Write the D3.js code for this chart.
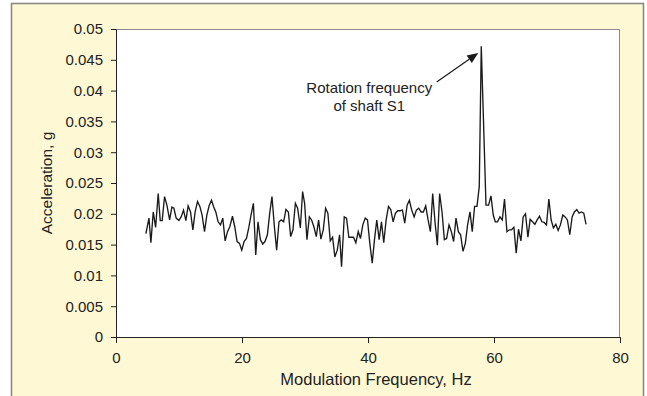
<!DOCTYPE html>
<html lang="en">
<head>
    <meta charset="UTF-8">
    <title>Modulation spectrum</title>
    <script src="https://cdnjs.cloudflare.com/ajax/libs/d3/7.8.5/d3.min.js"></script>
    <style>
        html, body {
            margin: 0;
            padding: 0;
            background: #fff;
        }
        svg {
            display: block;
            font-family: "Liberation Sans", Arial, Helvetica, sans-serif;
        }
        .axis text {
            font-size: 15px;
            fill: #222;
        }
        .axis path, .axis line {
            stroke: #222;
        }
    </style>
</head>
<body>
<svg width="647" height="396"></svg>

<script>

    // frequency (Hz) of each spectrum line
    const freq = [
        4.75, 5.23, 5.54, 5.91, 6.29, 6.70, 7.02, 7.33, 7.71, 8.08,
        8.51, 8.87, 9.19, 9.55, 9.98, 10.34, 10.72, 11.09, 11.45, 11.83,
        12.20, 12.56, 12.94, 13.31, 13.67, 14.05, 14.42, 14.78, 15.16, 15.48,
        15.84, 16.21, 16.59, 16.95, 17.32, 17.70, 18.06, 18.49, 18.85, 19.22,
        19.60, 19.96, 20.33, 20.71, 21.07, 21.43, 21.81, 22.18, 22.54, 22.92,
        23.29, 23.65, 24.03, 24.40, 24.76, 25.14, 25.50, 25.87, 26.25, 26.61,
        26.98, 27.36, 27.72, 28.09, 28.47, 28.83, 29.26, 29.62, 29.94, 30.31,
        30.69, 31.05, 31.41, 31.79, 32.16, 32.52, 32.90, 33.27, 33.63, 34.01,
        34.38, 34.74, 35.12, 35.49, 35.80, 36.23, 36.59, 36.96, 37.34, 37.70,
        38.07, 38.45, 38.81, 39.18, 39.56, 39.92, 40.29, 40.67, 41.03, 41.39,
        41.77, 42.14, 42.50, 42.88, 43.25, 43.61, 43.99, 44.36, 44.72, 45.10,
        45.47, 45.83, 46.21, 46.57, 46.94, 47.32, 47.68, 48.05, 48.43, 48.79,
        49.16, 49.54, 49.90, 50.27, 50.65, 51.01, 51.37, 51.75, 52.12, 52.48,
        52.86, 53.23, 53.59, 53.97, 54.34, 54.70, 55.08, 55.45, 55.81, 56.19,
        56.55, 56.92, 57.30, 57.66, 57.98, 58.73, 59.14, 59.52, 59.88, 60.20,
        60.56, 60.94, 61.31, 61.67, 62.05, 62.42, 62.78, 63.16, 63.52, 63.89,
        64.27, 64.63, 65.00, 65.38, 65.74, 66.11, 66.49, 66.85, 67.22, 67.60,
        67.96, 68.33, 68.71, 69.07, 69.43, 69.81, 70.18, 70.54, 70.92, 71.29,
        71.65, 72.03, 72.40, 72.76, 73.14, 73.50, 73.87, 74.25, 74.61
    ];

    // acceleration (g) at each frequency
    const accel = [
        0.0168, 0.0193, 0.0153, 0.0203, 0.0178, 0.0233, 0.0189, 0.0189, 0.0228, 0.0214,
        0.0190, 0.0211, 0.0209, 0.0193, 0.0189, 0.0195, 0.0206, 0.0189, 0.0213, 0.0203,
        0.0174, 0.0203, 0.0220, 0.0212, 0.0198, 0.0171, 0.0198, 0.0213, 0.0222, 0.0212,
        0.0203, 0.0187, 0.0182, 0.0193, 0.0156, 0.0171, 0.0179, 0.0196, 0.0179, 0.0155,
        0.0152, 0.0141, 0.0155, 0.0160, 0.0177, 0.0198, 0.0217, 0.0133, 0.0187, 0.0158,
        0.0151, 0.0155, 0.0166, 0.0201, 0.0228, 0.0179, 0.0141, 0.0187, 0.0190, 0.0187,
        0.0207, 0.0203, 0.0163, 0.0174, 0.0217, 0.0209, 0.0177, 0.0236, 0.0217, 0.0158,
        0.0195, 0.0190, 0.0179, 0.0163, 0.0190, 0.0159, 0.0174, 0.0209, 0.0201, 0.0156,
        0.0162, 0.0130, 0.0141, 0.0166, 0.0114, 0.0195, 0.0193, 0.0162, 0.0162, 0.0162,
        0.0153, 0.0171, 0.0160, 0.0182, 0.0193, 0.0190, 0.0152, 0.0120, 0.0158, 0.0190,
        0.0158, 0.0187, 0.0153, 0.0190, 0.0212, 0.0207, 0.0187, 0.0201, 0.0205, 0.0205,
        0.0206, 0.0185, 0.0214, 0.0222, 0.0206, 0.0195, 0.0206, 0.0209, 0.0203, 0.0203,
        0.0213, 0.0190, 0.0171, 0.0233, 0.0185, 0.0149, 0.0233, 0.0203, 0.0158, 0.0160,
        0.0182, 0.0171, 0.0155, 0.0193, 0.0171, 0.0166, 0.0139, 0.0152, 0.0182, 0.0203,
        0.0171, 0.0212, 0.0212, 0.0244, 0.0472, 0.0214, 0.0214, 0.0229, 0.0198, 0.0187,
        0.0187, 0.0195, 0.0190, 0.0224, 0.0171, 0.0174, 0.0174, 0.0178, 0.0136, 0.0175,
        0.0156, 0.0195, 0.0200, 0.0162, 0.0191, 0.0187, 0.0183, 0.0190, 0.0196, 0.0187,
        0.0186, 0.0182, 0.0224, 0.0190, 0.0177, 0.0183, 0.0173, 0.0182, 0.0198, 0.0195,
        0.0190, 0.0166, 0.0195, 0.0203, 0.0207, 0.0201, 0.0203, 0.0201, 0.0183
    ];

    const xTicks = [0, 20, 40, 60, 80];
    const yTicks = [0, 0.005, 0.01, 0.015, 0.02, 0.025, 0.03, 0.035, 0.04, 0.045, 0.05];

    const xTitle = "Modulation Frequency, Hz";
    const yTitle = "Acceleration, g";

    // callout: text lines, text anchor and arrow ends, in data units
    const noteLines = ["Rotation frequency", "of shaft S1"];
    const noteAt = [40.2, 0.0396];
    const arrowFrom = [50.9, 0.0414];
    const arrowTo = [57.5, 0.0461];

    const svg = d3.select("svg");
    const margin = {top: 29, right: 27, bottom: 59, left: 116};
    const width = 647 - margin.left - margin.right;
    const height = 396 - margin.top - margin.bottom;

    // pale yellow frame behind everything
    svg.append("rect")
        .attr("x", 11.5)
        .attr("y", 3.5)
        .attr("width", 632)
        .attr("height", 400)
        .attr("fill", "#fef9d4")
        .attr("stroke", "#8a8a80")
        .attr("stroke-width", 1.6);

    const g = svg.append("g")
        .attr("transform", `translate(${margin.left},${margin.top})`);

    g.append("rect")
        .attr("width", width)
        .attr("height", height)
        .attr("fill", "#fff");

    // grey edges on top and right of the plot area
    g.append("path")
        .attr("d", `M0,0.5H${width - 0.5}V${height}`)
        .attr("fill", "none")
        .attr("stroke", "#8a8a8a")
        .attr("stroke-width", 1);

    const x = d3.scaleLinear().domain([0, 80]).range([0, width]);
    const y = d3.scaleLinear().domain([0, 0.05]).range([height, 0]);

    g.append("g")
        .attr("class", "axis")
        .attr("transform", `translate(0,${height})`)
        .call(d3.axisBottom(x).tickValues(xTicks).tickSize(6).tickPadding(9).tickSizeOuter(0))
        .call(a => a.select(".domain").attr("d", `M0,0.5H${width}`));

    g.append("g")
        .attr("class", "axis")
        .call(d3.axisLeft(y).tickValues(yTicks).tickSize(5).tickPadding(8).tickSizeOuter(0)
            .tickFormat(d => d3.format("~g")(d)));

    g.append("path")
        .datum(freq.map((f, i) => [f, accel[i]]))
        .attr("fill", "none")
        .attr("stroke", "#1a1a1a")
        .attr("stroke-width", 1.35)
        .attr("stroke-linejoin", "miter")
        .attr("d", d3.line().x(d => x(d[0])).y(d => y(d[1])));

    // axis titles
    svg.append("text")
        .attr("x", margin.left + width / 2 + 8)
        .attr("y", 385)
        .attr("text-anchor", "middle")
        .attr("font-size", 16.5)
        .attr("fill", "#222")
        .text(xTitle);

    svg.append("text")
        .attr("transform", `translate(52,${margin.top + height / 2}) rotate(-90)`)
        .attr("text-anchor", "middle")
        .attr("font-size", 15.5)
        .attr("fill", "#222")
        .text(yTitle);

    // callout text and arrow
    const note = g.append("text")
        .attr("text-anchor", "middle")
        .attr("font-size", 15)
        .attr("fill", "#222");
    noteLines.forEach((t, i) => {
        note.append("tspan")
            .attr("x", x(noteAt[0]))
            .attr("y", y(noteAt[1]) + i * 18)
            .text(t);
    });

    const x0 = x(arrowFrom[0]), y0 = y(arrowFrom[1]);
    const x1 = x(arrowTo[0]), y1 = y(arrowTo[1]);
    const ang = Math.atan2(y1 - y0, x1 - x0);
    const headLen = 11, headHalf = 4.5;
    const bx = x1 - headLen * Math.cos(ang), by = y1 - headLen * Math.sin(ang);

    g.append("line")
        .attr("x1", x0).attr("y1", y0)
        .attr("x2", bx).attr("y2", by)
        .attr("stroke", "#1a1a1a")
        .attr("stroke-width", 1.2);

    g.append("path")
        .attr("d", d3.line()([
            [x1, y1],
            [bx + headHalf * Math.sin(ang), by - headHalf * Math.cos(ang)],
            [bx - headHalf * Math.sin(ang), by + headHalf * Math.cos(ang)]
        ]) + "Z")
        .attr("fill", "#1a1a1a");

</script>
</body>
</html>
